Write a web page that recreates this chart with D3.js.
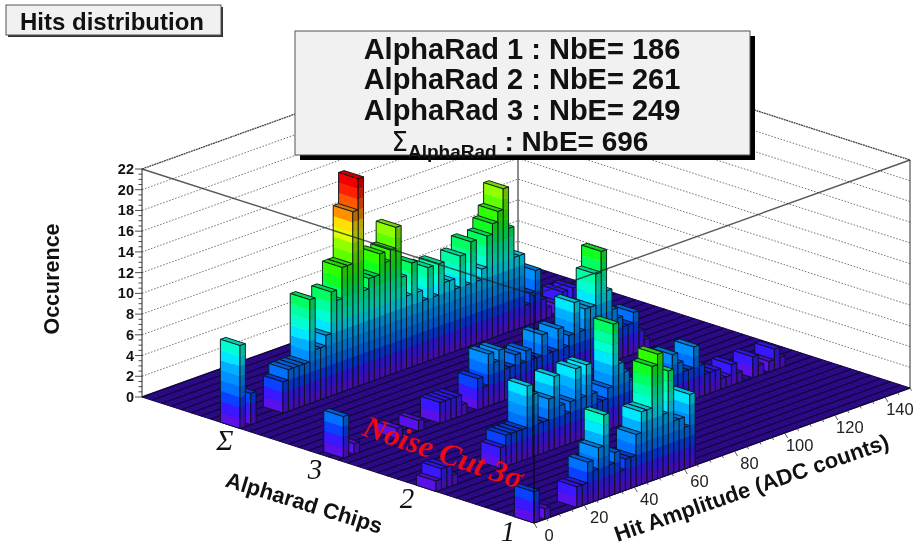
<!DOCTYPE html>
<html><head><meta charset="utf-8">
<script src="https://cdn.jsdelivr.net/npm/d3@7"></script>
<style>
html,body{margin:0;padding:0;background:#fff}
svg{display:block;filter:blur(0.45px)}
text{font-family:"Liberation Sans",Arial,sans-serif}
</style></head><body><svg id="c" width="916" height="548"></svg>
<script>
const titleText = "Hits distribution";
const statsLines = ["AlphaRad 1 : NbE= 186","AlphaRad 2 : NbE= 261","AlphaRad 3 : NbE= 249"];
const sumLine = ": NbE= 696";
const zTicks = [0,2,4,6,8,10,12,14,16,18,20,22];
const ampTicks = [0,20,40,60,80,100,120,140];
const chipLabels = ["1","2","3","Σ"];
const chipRows = [0,5,10,15];
const chipLabelRows = [2.45,7.6,12.3,16.9];
const chip1Hits = [3,0,1,0,0,0,0,0,2,2, 4,3,5,8,3,4,2,3,3,5, 7,7,11,12,6,10,5,5,4,7, 0,0,0,0,0,0,0,0,0,0, 0,0,0,0,0,0,0,0,0,0, 0,0,0,0,0,0,0,0,0,0, 0,0,0,0,0,0,0,0,0,0];
const chip2Hits = [1,2,2,1,0,0,0,0,0,0, 0,0,2,3,3,3,3,7,6,3, 3,5,7,4,3,4,7,4,7,4, 3,3,4,10,6,5,4,3,2,3, 2,3,3,3,5,4,3,3,5,3, 2,2,2,1,1,2,1,0,0,2, 1,0,1,2,1,0,0,0,0,0];
const chip3Hits = [0,4,0,1,0,0,0,0,0,0, 0,1,0,0,0,1,0,0,0,2, 2,2,2,1,0,0,3,2,5,4, 5,3,3,4,3,4,3,3,5,3, 3,5,3,4,7,4,6,6,9,11, 7,5,4,3,3,4,2,1,0,0, 0,0,0,0,0,0,0,0,0,0];
const sumHits = [8,0,3,0,0,0,0,0,3,4, 4,4,4,10,5,5,6,10,9,12, 12,17,20,9,10,10,12,11,12,14, 9,7,10,7,6,9,6,9,7,7, 6,9,6,10,6,7,10,11,12,14, 10,7,7,2,3,5,2,1,0,1, 2,1,2,1,0,1,0,0,0,0];
const series = [chip1Hits,chip2Hits,chip3Hits,sumHits];
const paletteStops = [1,2,3,4,6,7,8,9,10,11,12,14,15,16,17,19,20];
const paletteColors = ["#5a10e8","#3a18ff","#0a40ff","#0070ff","#00b0ff","#00e8ff","#00ffd0","#00ffa0","#00ff60","#10ff20","#30ff00","#90ff00","#e0ff00","#ffe000","#ff9000","#ff2000","#f00000"];

const nBins = 70, nRows = 20, ampMax = 150, zMax = 22;
const uX = d3.scaleLinear([0,ampMax],[0,376]), uY = d3.scaleLinear([0,ampMax],[0,-135]);
const vX = d3.scaleLinear([0,nRows],[0,-392]), vY = d3.scaleLinear([0,nRows],[0,-126]);
const zY = d3.scaleLinear([0,zMax],[0,-228]);
const binAmp = d3.scaleLinear([0,nBins],[0,ampMax]);
const color = d3.scaleLinear(paletteStops,paletteColors);
const P = (amp,row,z)=>[534+uX(amp)+vX(row),523+uY(amp)+vY(row)+zY(z)];
const line = pts=>d3.line()(pts)+"Z";
const svg = d3.select("#c");

// walls: grid, edges
const back = svg.append("g");
zTicks.slice(1).forEach(z=>{
  const a=P(0,nRows,z),b=P(ampMax,nRows,z),c=P(ampMax,0,z);
  back.append("path").attr("d",d3.line()([a,b,c])).attr("fill","none").attr("stroke",z===22?"#444":"#777").attr("stroke-width",z===22?1.3:1).attr("stroke-dasharray",z===22?"2 0.6":"1.6 1.6");
});
back.append("path").attr("d",d3.line()([P(ampMax,nRows,0),P(ampMax,nRows,22)])).attr("stroke","#666").attr("stroke-width",1.5).attr("fill","none");
back.append("path").attr("d",d3.line()([P(ampMax,0,0),P(ampMax,0,22)])).attr("stroke","#333").attr("stroke-width",1).attr("fill","none");

// floor
const floorG = svg.append("g");
floorG.append("path").attr("d",line([P(0,0,0),P(ampMax,0,0),P(ampMax,nRows,0),P(0,nRows,0)])).attr("fill","#2c0a88").attr("stroke","#16083c").attr("stroke-width",1);
floorG.selectAll(".r").data(d3.range(0,nRows+0.1,0.5)).join("path").attr("d",r=>d3.line()([P(0,r,0),P(ampMax,r,0)])).attr("stroke","#0e0535").attr("stroke-width",1.4).attr("opacity",.85);
floorG.selectAll(".a").data(d3.range(0,nBins+1)).join("path").attr("d",i=>d3.line()([P(binAmp(i),0,0),P(binAmp(i),nRows,0)])).attr("stroke","#1c0a5c").attr("stroke-width",.6).attr("opacity",.45);

// bars, back to front
const bars = svg.append("g");
const faces=[];
[3,2,1,0].forEach(s=>{
  const r0=chipRows[s], vals=series[s];
  d3.range(nBins-1,-1,-1).forEach(i=>{
    const h=vals[i]; if(!h) return;
    const a0=binAmp(i),a1=binAmp(i+1),r1=r0+1;
    faces.push({d:line([P(a0,r0,h),P(a1,r0,h),P(a1,r1,h),P(a0,r1,h)]),f:d3.color(color(h)).darker(.5)+"",o:1});
    d3.range(h).forEach(k=>{
      faces.push({d:line([P(a0,r1,k),P(a0,r0,k),P(a0,r0,k+1),P(a0,r1,k+1)]),f:color(k+1),o:0});
    });
    faces.push({d:line([P(a0,r1,0),P(a0,r0,0),P(a0,r0,h),P(a0,r1,h)]),f:"none",o:1});
    d3.range(h).forEach(k=>{
      faces.push({d:line([P(a0,r0,k),P(a1,r0,k),P(a1,r0,k+1),P(a0,r0,k+1)]),f:d3.color(color(k+1)).darker(.85)+"",o:0});
    });
    faces.push({d:line([P(a0,r0,0),P(a1,r0,0),P(a1,r0,h),P(a0,r0,h)]),f:"none",o:1});
  });
});
bars.selectAll("path").data(faces).join("path").attr("d",d=>d.d).attr("fill",d=>d.f)
  .attr("stroke",d=>d.o?"#08121c":d.f).attr("stroke-width",d=>d.o?.9:.3);

// front box edges over the bars
const fr = svg.append("g");
fr.append("path").attr("d",d3.line()([P(0,nRows,22),P(0,0,22),P(ampMax,0,22)])).attr("fill","none").attr("stroke","#222").attr("stroke-width",1.4).attr("opacity",.75);
fr.append("path").attr("d",d3.line()([P(0,0,0),P(0,0,22)])).attr("stroke","#000").attr("stroke-width",1.1).attr("opacity",.8);

// z axis
const zAxis = svg.append("g");
const zP = z=>P(0,nRows,z);
zAxis.append("path").attr("d",d3.line()([zP(0),zP(22)])).attr("stroke","#222").attr("stroke-width",1);
d3.range(0,22.01,.5).forEach(z=>{const p=zP(z);const m=z%2===0;
  zAxis.append("line").attr("x1",p[0]).attr("x2",p[0]-(m?7:3.5)).attr("y1",p[1]).attr("y2",p[1]).attr("stroke","#222").attr("stroke-width",.8);});
zAxis.selectAll("text").data(zTicks).join("text").attr("x",z=>zP(z)[0]-8).attr("y",z=>zP(z)[1]+5)
  .attr("text-anchor","end").attr("font-size",14.5).attr("font-weight",700).attr("fill","#111").text(d=>d);

// amp axis
const ampG = svg.append("g");
d3.range(0,ampMax+.1,5).forEach(a=>{const p=P(a,0,0);const m=a%20===0;
  ampG.append("line").attr("x1",p[0]).attr("y1",p[1]).attr("x2",p[0]+(m?3:1.5)).attr("y2",p[1]+(m?5:2.5)).attr("stroke","#333").attr("stroke-width",.8);});
ampG.selectAll("text").data(ampTicks).join("text").attr("x",a=>P(a,0,0)[0]+15).attr("y",a=>P(a,0,0)[1]+18)
  .attr("text-anchor","middle").attr("font-size",16.5).attr("fill","#222").text(d=>d);

// chip labels
svg.append("g").selectAll("text").data(chipLabels).join("text")
  .attr("x",(d,i)=>P(0,chipLabelRows[i],0)[0]+22).attr("y",(d,i)=>P(0,chipLabelRows[i],0)[1]+33)
  .attr("text-anchor","middle").attr("font-size",29).attr("font-style","italic").attr("fill","#111")
  .style("font-family","'Liberation Serif',serif").text(d=>d);

// titles
svg.append("text").attr("transform","translate(59,279) rotate(-90)").attr("text-anchor","middle").attr("font-size",21.5).attr("font-weight",700).attr("fill","#111").text("Occurence");
svg.append("text").attr("transform","translate(302,510) rotate(17)").attr("text-anchor","middle").attr("font-size",22).attr("font-weight",700).attr("fill","#111").text("Alpharad Chips");
svg.append("text").attr("transform","translate(754,495) rotate(-19)").attr("text-anchor","middle").attr("font-size",22).attr("font-weight",700).attr("fill","#111").text("Hit Amplitude (ADC counts)");
svg.append("text").attr("transform","translate(440,462) rotate(19)").attr("text-anchor","middle").attr("font-size",31).attr("font-style","italic").attr("fill","#ee0a14").style("font-family","'Liberation Serif',serif").style("font-weight",700).text("Noise Cut 3σ");

// title box
const tb=svg.append("g");
tb.append("rect").attr("x",8).attr("y",7).attr("width",215).attr("height",30).attr("fill","#333");
tb.append("rect").attr("x",6).attr("y",5).attr("width",215).attr("height",30).attr("fill","#f1f1f1").attr("stroke","#555").attr("stroke-width",1);
tb.append("text").attr("x",20).attr("y",30).attr("font-size",24).attr("font-weight",700).attr("fill","#111").text(titleText);

// stats box
const sb=svg.append("g");
sb.append("rect").attr("x",300).attr("y",36).attr("width",455).attr("height",124).attr("fill","#000");
sb.append("rect").attr("x",295).attr("y",31).attr("width",455).attr("height",124).attr("fill","#f1f1f1").attr("stroke","#555").attr("stroke-width",1);
sb.selectAll(".l").data(statsLines).join("text").attr("x",522).attr("y",(d,i)=>[59,89,119.5][i])
  .attr("text-anchor","middle").attr("font-size",29).attr("font-weight",700).attr("fill","#111").text(d=>d);
const st=sb.append("text").attr("x",520).attr("y",151).attr("text-anchor","middle").attr("font-weight",700).attr("fill","#111");
st.append("tspan").attr("font-size",26).attr("font-weight",400).style("font-family","'DejaVu Sans',sans-serif").text("Σ");
st.append("tspan").attr("font-size",19).attr("dy",7).text("AlphaRad");
st.append("tspan").attr("font-size",28).attr("dy",-7).text(" "+sumLine);
</script></body></html>
